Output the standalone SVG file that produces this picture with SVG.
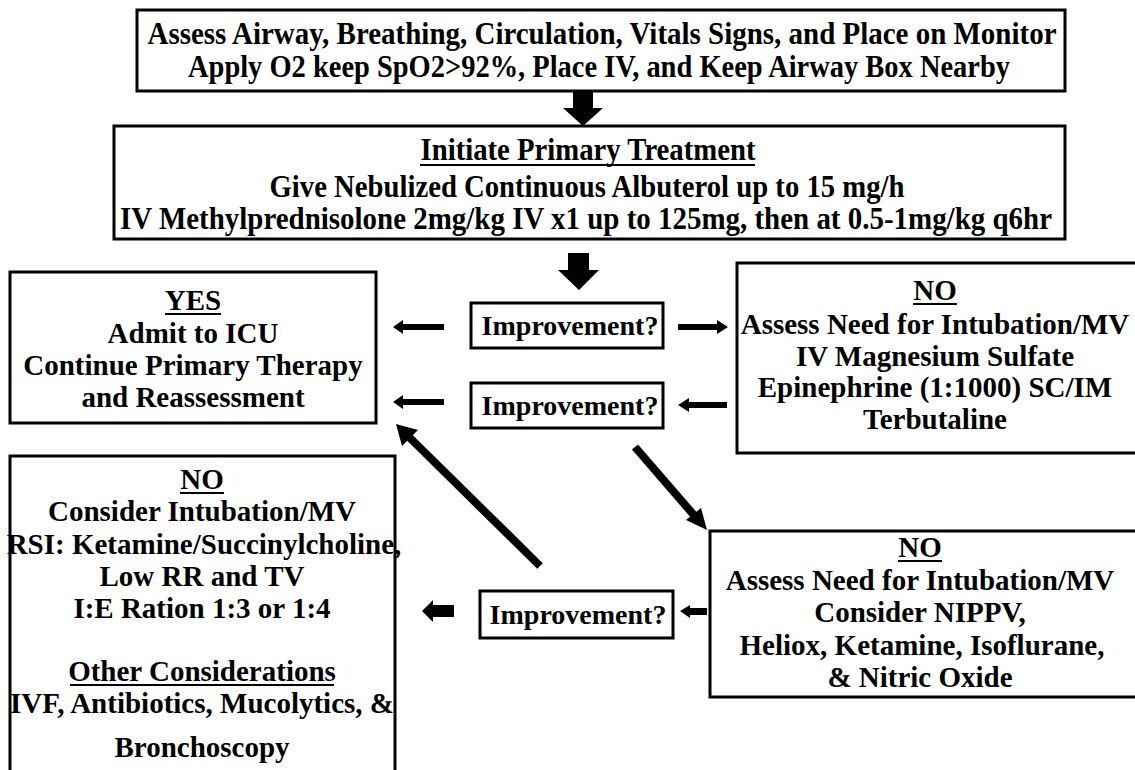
<svg xmlns="http://www.w3.org/2000/svg" width="1135" height="770" viewBox="0 0 1135 770">
<style>
.box{fill:#fff;stroke:#000;stroke-width:3}
.t{font-weight:bold;fill:#000;text-anchor:middle}
.big{font-size:29px}
.imp{font-size:28px}
.top{font-size:31px}
.ul{stroke:#000;stroke-width:2}
.arr{fill:#000}
.ln{stroke:#000;stroke-width:8;fill:none}
</style>
<rect width="1135" height="770" fill="#fff"/>
<g id="connectors">
<polygon class="arr" points="573,92 593,92 593,108 603,108 583,126 563,108 573,108"/>
<polygon class="arr" points="568,253 589,253 589,270 599,270 579,290 558,270 568,270"/>
<polygon class="arr" points="444,324 403,324 403,320 393,327 403,334 403,330 444,330"/>
<polygon class="arr" points="678,324 717,324 717,320 728,327 717,334 717,330 678,330"/>
<polygon class="arr" points="444,399 403,399 403,395 393,402 403,409 403,405 444,405"/>
<polygon class="arr" points="727,402 689,402 689,398 678,405 689,412 689,408 727,408"/>
<polygon class="arr" points="454,605 433,605 433,600 422,611 433,622 433,617 454,617"/>
<polygon class="arr" points="707,608 690,608 690,605 680,611 690,618 690,615 707,615"/>
<line class="ln" x1="540" y1="566" x2="406" y2="434"/>
<polygon class="arr" points="396,424 418,430 402,446"/>
<line class="ln" x1="635" y1="447" x2="699" y2="521"/>
<polygon class="arr" points="707,530 686,520 701,508"/>
</g>
<g font-family="'Liberation Serif', 'Times New Roman', 'DejaVu Serif', serif">
<g id="n-assess">
<rect class="box" x="137" y="10" width="928" height="81"/>
<text class="t top" x="602" y="44" textLength="909" lengthAdjust="spacingAndGlyphs">Assess Airway, Breathing, Circulation, Vitals Signs, and Place on Monitor</text>
<text class="t top" x="599" y="77" textLength="822" lengthAdjust="spacingAndGlyphs">Apply O2 keep SpO2&gt;92%, Place IV, and Keep Airway Box Nearby</text>
</g>
<g id="n-primary">
<rect class="box" x="114" y="126" width="951" height="113"/>
<text class="t top" x="588" y="160" textLength="335" lengthAdjust="spacingAndGlyphs">Initiate Primary Treatment</text>
<line class="ul" x1="420" y1="165" x2="755" y2="165"/>
<text class="t top" x="587" y="197" textLength="635" lengthAdjust="spacingAndGlyphs">Give Nebulized Continuous Albuterol up to 15 mg/h</text>
<text class="t top" x="586" y="229" textLength="932" lengthAdjust="spacingAndGlyphs">IV Methylprednisolone 2mg/kg IV x1 up to 125mg, then at 0.5-1mg/kg q6hr</text>
</g>
<g id="n-yes">
<rect class="box" x="10" y="272" width="366" height="151"/>
<text class="t big" x="193" y="310">YES</text>
<line class="ul" x1="165" y1="314" x2="221" y2="314"/>
<text class="t big" x="193" y="343">Admit to ICU</text>
<text class="t big" x="193" y="375">Continue Primary Therapy</text>
<text class="t big" x="193" y="407">and Reassessment</text>
</g>
<g id="n-imp1">
<rect class="box" x="471" y="303" width="192" height="45"/>
<text class="t imp" x="570" y="335">Improvement?</text>
</g>
<g id="n-imp2">
<rect class="box" x="471" y="383" width="192" height="45"/>
<text class="t imp" x="570" y="415">Improvement?</text>
</g>
<g id="n-no1">
<rect class="box" x="737" y="263" width="410" height="190"/>
<text class="t big" x="935" y="300">NO</text>
<line class="ul" x1="913" y1="304" x2="957" y2="304"/>
<text class="t big" x="935" y="334">Assess Need for Intubation/MV</text>
<text class="t big" x="935" y="366">IV Magnesium Sulfate</text>
<text class="t big" x="935" y="397">Epinephrine (1:1000) SC/IM</text>
<text class="t big" x="935" y="429">Terbutaline</text>
</g>
<g id="n-no2">
<rect class="box" x="710" y="531" width="440" height="166"/>
<text class="t big" x="920" y="557">NO</text>
<line class="ul" x1="898" y1="561" x2="942" y2="561"/>
<text class="t big" x="920" y="590">Assess Need for Intubation/MV</text>
<text class="t big" x="920" y="622">Consider NIPPV,</text>
<text class="t big" x="922" y="655">Heliox, Ketamine, Isoflurane,</text>
<text class="t big" x="920" y="687">&amp; Nitric Oxide</text>
</g>
<g id="n-imp3">
<rect class="box" x="480" y="591" width="193" height="47"/>
<text class="t imp" x="578" y="624">Improvement?</text>
</g>
<g id="n-no3">
<rect class="box" x="10" y="456" width="385" height="330"/>
<text class="t big" x="202" y="489">NO</text>
<line class="ul" x1="180" y1="493" x2="224" y2="493"/>
<text class="t big" x="202" y="521">Consider Intubation/MV</text>
<text class="t big" x="204" y="554">RSI: Ketamine/Succinylcholine,</text>
<text class="t big" x="202" y="586">Low RR and TV</text>
<text class="t big" x="202" y="618">I:E Ration 1:3 or 1:4</text>
<text class="t big" x="202" y="681">Other Considerations</text>
<line class="ul" x1="70" y1="685" x2="334" y2="685"/>
<text class="t big" x="202" y="713">IVF, Antibiotics, Mucolytics, &amp;</text>
<text class="t big" x="202" y="757">Bronchoscopy</text>
</g>
</g>
</svg>
